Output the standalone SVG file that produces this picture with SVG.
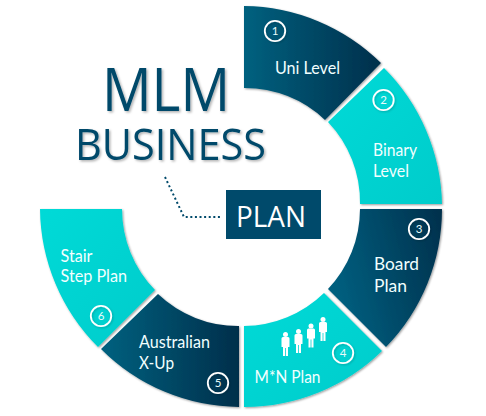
<svg xmlns="http://www.w3.org/2000/svg" xmlns:xlink="http://www.w3.org/1999/xlink" width="486" height="416" viewBox="0 0 486 416">
<style>
.t{font-family:"Lato","Open Sans","Liberation Sans",sans-serif;fill:#f2ffff;font-size:16.500px}
.n{font-family:"Lato","Open Sans","Liberation Sans",sans-serif;fill:#e8fbfb;font-size:11.500px;text-anchor:middle}
.c{fill:none;stroke:#fff;stroke-width:1.800;filter:url(#cs)}
.h{font-family:"Open Sans","Liberation Sans",sans-serif;fill:#004a6b;filter:url(#ts)}
.seg{filter:url(#s)}
</style>
<defs>
<filter id="s" x="-10%" y="-10%" width="125%" height="125%"><feDropShadow dx="1" dy="1" stdDeviation="1.200" flood-color="#000" flood-opacity=".4"/></filter>
<filter id="cs" x="-30%" y="-30%" width="170%" height="170%"><feDropShadow dx="1" dy="1" stdDeviation="1" flood-color="#000" flood-opacity=".2"/></filter>
<filter id="ts" x="-10%" y="-10%" width="125%" height="130%"><feDropShadow dx="1.500" dy="1.500" stdDeviation="1.200" flood-color="#000" flood-opacity=".3"/></filter>
<linearGradient id="d1" x1="0" y1="0" x2="1" y2="0"><stop offset="0" stop-color="#00617f"/><stop offset="1" stop-color="#022f4b"/></linearGradient>
<linearGradient id="d3" x1="0" y1="0.3" x2="1" y2="0"><stop offset="0" stop-color="#005e7e"/><stop offset="1" stop-color="#03304c"/></linearGradient>
<linearGradient id="l" x1="0" y1="0" x2="1" y2="1"><stop offset="0" stop-color="#00dad7"/><stop offset="1" stop-color="#00cccb"/></linearGradient>
<g id="p"><circle cx="0" cy="2.500" r="2.500"/><path d="M-4 6.500Q-4 5-2.500 5H2.500Q4 5 4 6.500V15H2.500V24H.4V16H-.4V24H-2.500V15H-4Z"/></g>
</defs>
<g id="connectors"><path d="M165 177L184 217H221" fill="none" stroke="#004a6b" stroke-width="2" stroke-dasharray="2 2.600"/></g>
<g id="title"><text class="h" x="102" y="111" font-size="60" textLength="128" lengthAdjust="spacingAndGlyphs">MLM</text><text class="h" x="75" y="160" font-size="44" textLength="191" lengthAdjust="spacingAndGlyphs">BUSINESS</text></g>
<g id="plan"><rect x="226" y="190" width="95" height="49" fill="#004a6b"/><text x="236" y="227" font-family="Open Sans, Liberation Sans, sans-serif" font-size="30" fill="#fff" textLength="70" lengthAdjust="spacingAndGlyphs">PLAN</text></g>
<g id="node1"><path class="seg" fill="url(#d1)" d="M244 6A198 198 0 0 1 381 63L325 120A116 116 0 0 0 244 88Z"/><circle class="c" cx="275" cy="31" r="10.200"/><text class="n" x="275" y="35">1</text><text class="t" x="275" y="74" textLength="65" lengthAdjust="spacingAndGlyphs">Uni Level</text></g>
<g id="node2"><path class="seg" fill="url(#l)" d="M384 68A198 198 0 0 1 442 204H360A116 116 0 0 0 328 122Z"/><circle class="c" cx="383.500" cy="100" r="10.200"/><text class="n" x="383.500" y="104">2</text><text class="t" x="373" y="156" textLength="44" lengthAdjust="spacingAndGlyphs">Binary</text><text class="t" x="373" y="177" textLength="36" lengthAdjust="spacingAndGlyphs">Level</text></g>
<g id="node3"><path class="seg" fill="url(#d3)" d="M360 209H442A198 198 0 0 1 386 347L328 289A116 116 0 0 0 360 209Z"/><circle class="c" cx="419" cy="229" r="10.200"/><text class="n" x="419" y="233">3</text><text class="t" x="374" y="270" textLength="45" lengthAdjust="spacingAndGlyphs">Board</text><text class="t" x="374" y="292" textLength="33" lengthAdjust="spacingAndGlyphs">Plan</text></g>
<g id="node4"><path class="seg" fill="url(#l)" d="M382 351A197 197 0 0 1 244 407V326A116 116 0 0 0 324 293Z"/><circle class="c" cx="343" cy="353" r="10.200"/><text class="n" x="343" y="357">4</text><text class="t" x="254.500" y="383" textLength="66" lengthAdjust="spacingAndGlyphs">M*N Plan</text><g id="people" fill="#fff"><use xlink:href="#p" href="#p" x="285.500" y="332"/><use xlink:href="#p" href="#p" x="298.500" y="329"/><use xlink:href="#p" href="#p" x="311" y="323.500"/><use xlink:href="#p" href="#p" x="323" y="317"/></g></g>
<g id="node5"><path class="seg" fill="url(#d1)" d="M239 326V407A197 197 0 0 1 101 349L158 294A116 116 0 0 0 239 326Z"/><circle class="c" cx="218" cy="383" r="10.200"/><text class="n" x="218" y="387">5</text><text class="t" x="139" y="348" textLength="71" lengthAdjust="spacingAndGlyphs">Australian</text><text class="t" x="139" y="369" textLength="35" lengthAdjust="spacingAndGlyphs">X-Up</text></g>
<g id="node6"><path class="seg" fill="url(#l)" d="M40 209H122A116 116 0 0 0 155 290L98 347A198 198 0 0 1 40 209Z"/><circle class="c" cx="101" cy="316" r="10.200"/><text class="n" x="101" y="320">6</text><text class="t" x="60.500" y="262" textLength="32" lengthAdjust="spacingAndGlyphs">Stair</text><text class="t" x="60.500" y="282" textLength="66.500" lengthAdjust="spacingAndGlyphs">Step Plan</text></g>
</svg>
